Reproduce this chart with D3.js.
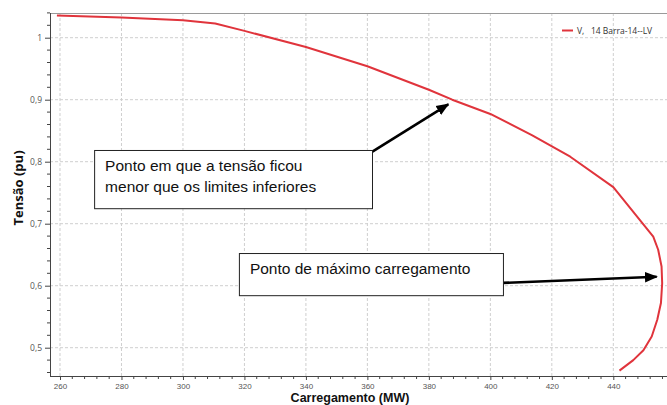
<!DOCTYPE html>
<html><head><meta charset="utf-8">
<script src="https://cdn.jsdelivr.net/npm/d3@7"></script>
<style>
html,body{margin:0;padding:0;background:#fff;}
svg{display:block;}
</style></head>
<body>
<svg id="chart" width="667" height="405"></svg>
<script>
// ---- data ----
const loadMW = [259, 280, 300, 310.5, 320, 340, 360, 380, 387.6, 400, 413.5, 426, 440, 453.0, 454.6, 455.7, 455.9, 455.5, 454.3, 452.5, 449.8, 446.5, 442.0];
const voltagePU = [1.036, 1.0325, 1.028, 1.023, 1.011, 0.985, 0.954, 0.916, 0.900, 0.877, 0.843, 0.808, 0.759, 0.679, 0.658, 0.631, 0.604, 0.572, 0.545, 0.518, 0.496, 0.480, 0.463];
const xTickValues = [260, 280, 300, 320, 340, 360, 380, 400, 420, 440];
const yTickValues = [0.5, 0.6, 0.7, 0.8, 0.9, 1.0];
const yTickLabels = ["0,5", "0,6", "0,7", "0,8", "0,9", "1"];
const seriesName = "V,   14 Barra-14--LV";
const xTitle = "Carregamento (MW)";
const yTitle = "Tensão (pu)";
const annotationTexts = [
  ["Ponto em que a tensão ficou", "menor que os limites inferiores"],
  ["Ponto de máximo carregamento"]
];
// annotation geometry in data units [MW, pu]
const annotationBoxes = [
  {x0: 271.1, x1: 361.5, y0: 0.8189, y1: 0.7250},
  {x0: 318.2, x1: 404.1, y0: 0.6527, y1: 0.5847}
];
const annotationArrows = [
  {from: [361.5, 0.8160], to: [386.3, 0.8926]},
  {from: [404.1, 0.6045], to: [454.1, 0.6145]}
];

// ---- layout ----
const svg = d3.select("#chart");
const pLeft = 50, pTop = 13, pBottom = 376, pRight = 667;
const x = d3.scaleLinear().domain([260, 440]).range([60, 613.3]);
const y = d3.scaleLinear().domain([0.5, 1.0]).range([347.7, 37.7]);
const defs = svg.append("defs");

// grid
const grid = svg.append("g");
grid.selectAll("line.v").data(xTickValues).enter().append("line")
  .attr("x1", d => x(d)).attr("x2", d => x(d)).attr("y1", pTop).attr("y2", pBottom)
  .attr("stroke", "#cfcfcf").attr("stroke-width", 1).attr("stroke-dasharray", "3,2");
grid.selectAll("line.h").data(yTickValues).enter().append("line")
  .attr("y1", d => y(d)).attr("y2", d => y(d)).attr("x1", pLeft).attr("x2", pRight)
  .attr("stroke", "#cfcfcf").attr("stroke-width", 1).attr("stroke-dasharray", "3,2");

// top border
svg.append("line").attr("x1", pLeft).attr("x2", pRight).attr("y1", pTop + 0.5).attr("y2", pTop + 0.5)
  .attr("stroke", "#9a9a9a").attr("stroke-width", 1);

// x axis
const xMinor = d3.range(260, 458, 4).filter(v => v % 20 !== 0);
const xAxisG = svg.append("g").attr("transform", `translate(0,${pBottom})`);
xAxisG.call(d3.axisBottom(x).tickValues(xTickValues).tickSize(4).tickPadding(3).tickFormat(d3.format("d")))
  .call(g => g.select(".domain").remove());
xAxisG.append("g").selectAll("line").data(xMinor).enter().append("line")
  .attr("x1", d => x(d)).attr("x2", d => x(d)).attr("y1", 0).attr("y2", 3)
  .attr("stroke", "#444");
xAxisG.append("line").attr("x1", pLeft).attr("x2", pRight).attr("y1", 0.5).attr("y2", 0.5).attr("stroke", "#444");
xAxisG.selectAll(".tick line").attr("stroke", "#444");
xAxisG.selectAll("text").attr("font-family", "'Liberation Sans', Arial, sans-serif").attr("font-size", "8px").attr("fill", "#555");

// y axis
const yMinor = d3.range(0.46, 1.04, 0.02).map(v => +v.toFixed(2)).filter(v => Math.round(v * 100) % 10 !== 0);
const yAxisG = svg.append("g").attr("transform", `translate(${pLeft},0)`);
yAxisG.call(d3.axisLeft(y).tickValues(yTickValues).tickSize(5).tickPadding(3).tickFormat((d, i) => yTickLabels[i]))
  .call(g => g.select(".domain").remove());
yAxisG.append("g").selectAll("line").data(yMinor).enter().append("line")
  .attr("y1", d => y(d)).attr("y2", d => y(d)).attr("x1", 0).attr("x2", -3)
  .attr("stroke", "#444");
yAxisG.append("line").attr("x1", 0.5).attr("x2", 0.5).attr("y1", pTop).attr("y2", pBottom).attr("stroke", "#444");
yAxisG.selectAll(".tick line").attr("stroke", "#444");
yAxisG.selectAll("text").attr("font-family", "'Open Sans', sans-serif").attr("font-size", "8.5px").attr("fill", "#555");

// titles
svg.append("text").attr("x", 350).attr("y", 402).attr("text-anchor", "middle")
  .attr("font-family", "'Liberation Sans', Arial, sans-serif").attr("font-weight", "bold").attr("font-size", "12.5px").attr("fill", "#111")
  .text(xTitle);
svg.append("text").attr("transform", "translate(23,188) rotate(-90)").attr("text-anchor", "middle")
  .attr("font-family", "'Open Sans', sans-serif").attr("font-weight", "bold").attr("font-size", "13px").attr("fill", "#111")
  .text(yTitle);

// curve
const pts = loadMW.map((m, i) => [m, voltagePU[i]]);
defs.append("clipPath").attr("id", "clip").append("rect")
  .attr("x", pLeft).attr("y", pTop).attr("width", pRight - pLeft).attr("height", pBottom - pTop);
const lineGen = d3.line().x(d => x(d[0])).y(d => y(d[1])).curve(d3.curveLinear);
svg.append("path").datum(pts).attr("clip-path", "url(#clip)")
  .attr("d", lineGen)
  .attr("fill", "none").attr("stroke", "#e0343c").attr("stroke-width", 2).attr("stroke-linejoin", "round");

// legend
svg.append("line").attr("x1", 562).attr("x2", 573).attr("y1", 30.5).attr("y2", 30.5)
  .attr("stroke", "#e0343c").attr("stroke-width", 2);
svg.append("text").attr("x", 577).attr("y", 33.5)
  .attr("font-family", "'Open Sans', sans-serif").attr("font-size", "8.5px").attr("fill", "#333")
  .style("white-space", "pre").text(seriesName);

// arrow marker
defs.append("marker").attr("id", "arrow").attr("viewBox", "0 0 10 10")
  .attr("refX", 9).attr("refY", 5).attr("markerWidth", 5).attr("markerHeight", 5)
  .attr("markerUnits", "strokeWidth").attr("orient", "auto")
  .append("path").attr("d", "M0,1 L10,5 L0,9 Z").attr("fill", "#000");

// annotations
annotationArrows.forEach(a => {
  svg.append("line").attr("x1", x(a.from[0])).attr("y1", y(a.from[1]))
    .attr("x2", x(a.to[0])).attr("y2", y(a.to[1]))
    .attr("stroke", "#000").attr("stroke-width", 2.6).attr("marker-end", "url(#arrow)");
});
annotationBoxes.forEach((b, i) => {
  const bx = x(b.x0), by = y(b.y0), bw = x(b.x1) - x(b.x0), bh = y(b.y1) - y(b.y0);
  svg.append("rect").attr("x", bx + 0.5).attr("y", by + 0.5).attr("width", bw).attr("height", bh)
    .attr("fill", "#fff").attr("stroke", "#222").attr("stroke-width", 1);
  annotationTexts[i].forEach((t, j) => {
    svg.append("text").attr("x", bx + 11).attr("y", by + 21 + j * 21.5)
      .attr("font-family", "'Liberation Sans', Arial, sans-serif").attr("font-size", "15.5px").attr("fill", "#111")
      .text(t);
  });
});
</script>
</body></html>
